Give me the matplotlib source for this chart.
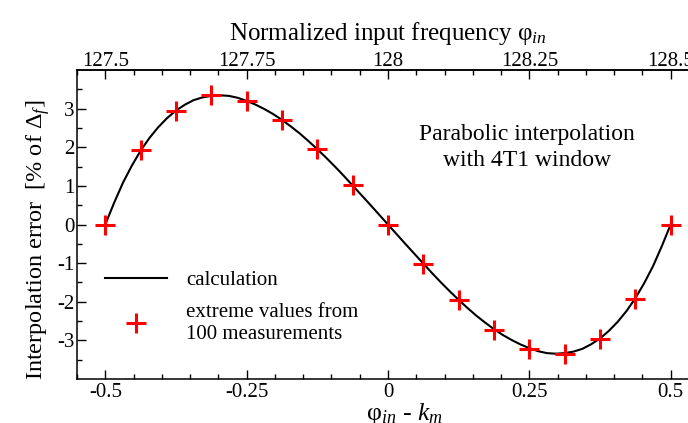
import matplotlib
matplotlib.use("Agg")
import matplotlib.pyplot as plt
from matplotlib.ticker import MultipleLocator, FixedLocator

plt.rcParams['font.family'] = ['Liberation Serif', 'DejaVu Serif']
plt.rcParams['mathtext.fontset'] = 'custom'
plt.rcParams['mathtext.rm'] = 'Liberation Serif'
plt.rcParams['mathtext.it'] = 'Liberation Serif:italic'
plt.rcParams['axes.unicode_minus'] = False

# calculated error curve, every 1/64
curve_x = [-0.5, -0.484375, -0.46875, -0.453125, -0.4375, -0.421875, -0.40625, -0.390625,
           -0.375, -0.359375, -0.34375, -0.328125, -0.3125, -0.296875, -0.28125, -0.265625,
           -0.25, -0.234375, -0.21875, -0.203125, -0.1875, -0.171875, -0.15625, -0.140625,
           -0.125, -0.109375, -0.09375, -0.078125, -0.0625, -0.046875, -0.03125, -0.015625,
           0.0, 0.015625, 0.03125, 0.046875, 0.0625, 0.078125, 0.09375, 0.109375,
           0.125, 0.140625, 0.15625, 0.171875, 0.1875, 0.203125, 0.21875, 0.234375,
           0.25, 0.265625, 0.28125, 0.296875, 0.3125, 0.328125, 0.34375, 0.359375,
           0.375, 0.390625, 0.40625, 0.421875, 0.4375, 0.453125, 0.46875, 0.484375, 0.5]
curve_y = [0.0, 0.56, 1.08, 1.52, 1.91, 2.24, 2.52, 2.755,
           2.95, 3.10, 3.22, 3.29, 3.33, 3.345, 3.33, 3.28,
           3.20, 3.105, 2.99, 2.86, 2.71, 2.54, 2.36, 2.16,
           1.95, 1.73, 1.50, 1.26, 1.01, 0.76, 0.51, 0.255,
           0.0, -0.255, -0.51, -0.76, -1.01, -1.26, -1.50, -1.73,
           -1.95, -2.16, -2.36, -2.54, -2.71, -2.86, -2.99, -3.105,
           -3.20, -3.28, -3.33, -3.345, -3.33, -3.29, -3.22, -3.10,
           -2.95, -2.755, -2.52, -2.24, -1.91, -1.52, -1.08, -0.56, 0.0]

# measured extreme values
meas_x = [-0.5, -0.4375, -0.375, -0.3125, -0.25, -0.1875, -0.125, -0.0625, 0.0,
          0.0625, 0.125, 0.1875, 0.25, 0.3125, 0.375, 0.4375, 0.5]
meas_y = [0.0, 1.92, 2.95, 3.34, 3.20, 2.70, 1.95, 1.02, 0.0,
          -1.01, -1.95, -2.72, -3.22, -3.35, -2.96, -1.94, 0.0]

bottom_ticks = [-0.5, -0.25, 0, 0.25, 0.5]
bottom_labels = ["-0.5", "-0.25", "0", "0.25", "0.5"]
top_ticks = [127.5, 127.75, 128, 128.25, 128.5]
top_labels = ["127.5", "127.75", "128", "128.25", "128.5"]
y_ticks = [-3, -2, -1, 0, 1, 2, 3]
f_center = 128

fig = plt.figure(figsize=(6.88, 4.23), dpi=100)
ax = fig.add_axes([0.1119, 0.104, 0.904, 0.7305])

line, = ax.plot(curve_x, curve_y, color='black', lw=1.5, label='calculation')
pts, = ax.plot(meas_x, meas_y, ls='none', marker='+', ms=14, mew=2.2, color='#ff0000',
               label='extreme values from\n100 measurements')

ax.set_xlim(-0.55, 0.55)
ax.set_ylim(-4, 4)
ax.set_xticks(bottom_ticks)
ax.set_xticklabels(bottom_labels)
ax.xaxis.set_minor_locator(MultipleLocator(0.05))
ax.set_yticks(y_ticks)
ax.yaxis.set_minor_locator(FixedLocator([-3.5, -2.5, -1.5, -0.5, 0.5, 1.5, 2.5, 3.5]))

for s in ax.spines.values():
    s.set_linewidth(1.1)

ax.tick_params(which='both', direction='in', width=1.0, labelsize=15, pad=2, top=False, right=False)
ax.tick_params(axis='x', which='both', pad=3)
ax.tick_params(which='major', length=6.5)
ax.tick_params(which='minor', length=3.8)

sec = ax.secondary_xaxis('top', functions=(lambda v: v + f_center, lambda v: v - f_center))
sec.set_xticks(top_ticks)
sec.set_xticklabels(top_labels)
sec.xaxis.set_minor_locator(MultipleLocator(0.05))
sec.tick_params(which='both', direction='in', width=1.0, labelsize=15, pad=-1)
sec.tick_params(which='major', length=6.5)
sec.tick_params(which='minor', length=3.8)
sec.spines['top'].set_linewidth(1.1)
sec.set_xlabel(r"Normalized input frequency φ$_{in}$", fontsize=18, labelpad=9)

ax.set_xlabel(r"φ$_{in}$ - $k_m$", fontsize=18.5)
ax.xaxis.set_label_coords(0.527, -0.072)
ax.set_ylabel(r"Interpolation error  [% of $\mathit{\Delta}_f$]", fontsize=17.5)
ax.yaxis.set_label_coords(-0.040, 0.451)

ax.text(0.7235, 0.748, "Parabolic interpolation\nwith 4T1 window", transform=ax.transAxes,
        ha='center', va='center', fontsize=17, linespacing=1.3)

leg = ax.legend(handles=[line, pts], loc='upper left', bbox_to_anchor=(0.045, 0.35),
                frameon=False, fontsize=15, handlelength=3.0, handletextpad=0.9,
                labelspacing=0.6, borderpad=0, borderaxespad=0)
leg.get_texts()[1].set_linespacing(1.2)

fig.savefig("out.png", dpi=100)
